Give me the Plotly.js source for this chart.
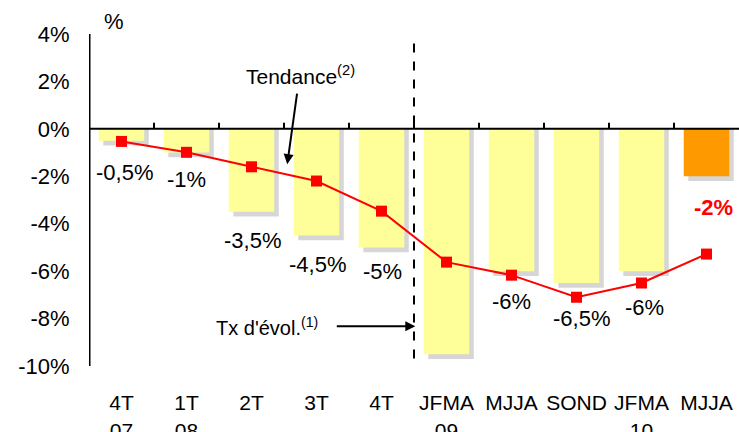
<!DOCTYPE html>
<html><head><meta charset="utf-8">
<script src="https://cdn.plot.ly/plotly-3.0.1.min.js"></script>
<style>html,body{margin:0;padding:0;background:#fff}#chart{width:739px;height:432px}</style>
</head><body><div id="chart"></div>
<script>
const categories = ["4T<br>07","1T<br>08","2T","3T","4T","JFMA<br>09","MJJA","SOND","JFMA<br>10","MJJA"];
const barValues = [-0.5,-1,-3.5,-4.5,-5,-9.5,-6,-6.5,-6,-2];
const trendValues = [-0.53,-0.99,-1.6,-2.2,-3.47,-5.62,-6.17,-7.1,-6.5,-5.28];
const barLabels = ["-0,5%","-1%","-3,5%","-4,5%","-5%","-9,5%","-6%","-6,5%","-6%","-2%"];
const labelX = [0.05,1.0,2.02,3.02,4.02,4.9,6.0,7.08,8.04,9.1];
const labelY = [-1.83,-2.13,-4.69,-5.7,-6.0,-10.4,-7.3,-8.0,-7.52,-3.3];
const yTickVals = [4,2,0,-2,-4,-6,-8,-10];
const yTickText = ["4%","2%","0%","-2%","-4%","-6%","-8%","-10%"];

const idx = categories.map((c,i)=>i);
const barColors = barValues.map((v,i)=> i===barValues.length-1 ? '#FF9900' : '#FFFF99');
const FONT = 'Liberation Sans, Arial, sans-serif';
const PLOT_W = 650, PLOT_H = 332;
const X_MIN = -0.5, X_MAX = idx.length - 0.5, Y_MIN = -10, Y_MAX = 4;
const pxX = (X_MAX - X_MIN) / PLOT_W, pxY = (Y_MAX - Y_MIN) / PLOT_H;

// axis decoration segments (derived from ranges and tick arrays)
const yTickX = [], yTickY = [];
yTickVals.forEach(v=>{ yTickX.push(X_MIN - 7*pxX, X_MIN, null); yTickY.push(v, v, null); });
const bTickX = [], bTickY = [];
idx.slice(1).forEach(i=>{ bTickX.push(i-0.5, i-0.5, null); bTickY.push(0, 6*pxY, null); });

const deco = {hoverinfo:'skip', showlegend:false, cliponaxis:false, mode:'lines', type:'scatter'};
const traces = [
  {type:'bar', x:idx, y:barValues.map(v=>v-0.2), width:0.7, offset:-0.28,
   marker:{color:'rgba(0,0,0,0.16)'}, hoverinfo:'skip', showlegend:false},
  {type:'bar', x:idx, y:barValues, width:0.7, marker:{color:barColors}, showlegend:false},
  Object.assign({x:[X_MIN, X_MAX], y:[0,0], line:{color:'#000', width:2}}, deco),
  Object.assign({x:bTickX, y:bTickY, line:{color:'#000', width:2}}, deco),
  Object.assign({x:yTickX, y:yTickY, line:{color:'#000', width:2}}, deco),
  Object.assign({x:[X_MIN, X_MIN], y:[Y_MAX, Y_MIN], line:{color:'#000', width:3}}, deco),
  {type:'scatter', mode:'lines+markers', x:idx, y:trendValues,
   line:{color:'#FF0000', width:2}, marker:{symbol:'square', size:11, color:'#FF0000'}, showlegend:false}
];

const anns = barLabels.map((t,i)=>({
  x:labelX[i], y:labelY[i], xref:'x', yref:'y', text: i===barLabels.length-1 ? '<b>'+t+'</b>' : t,
  showarrow:false, font:{family:FONT, size:22, color: i===barLabels.length-1 ? '#FF0000':'#000'}
}));
anns.push({x:-0.12, y:1.038, xref:'x', yref:'paper', yanchor:'middle', text:'%', showarrow:false, font:{family:FONT, size:22, color:'#000'}});
anns.push({x:2.75, y:2.29, xref:'x', yref:'y', text:'Tendance<sup>(2)</sup>', showarrow:false, font:{family:FONT, size:21, color:'#000'}});
anns.push({x:2.55, y:-1.49, xref:'x', yref:'y', text:'', showarrow:true, ax:10, ay:-72, arrowhead:2, arrowsize:1, arrowwidth:2, arrowcolor:'#000'});
anns.push({x:2.24, y:-8.32, xref:'x', yref:'y', text:"Tx d'évol.<sup>(1)</sup>", showarrow:false, font:{family:FONT, size:20, color:'#000'}});
anns.push({x:4.52, y:-8.32, xref:'x', yref:'y', text:'', showarrow:true, ax:-80, ay:0, arrowhead:2, arrowsize:1, arrowwidth:2, arrowcolor:'#000'});

const shapes = [
  {type:'line', xref:'x', yref:'y', x0:4.5, x1:4.5, y0:3.6, y1:-12, line:{color:'#000', width:2, dash:'dash'}}
];

const layout = {
  width:739, height:432,
  margin:{l:89, r:0, t:34, b:66},
  paper_bgcolor:'#fff', plot_bgcolor:'#fff',
  barmode:'overlay',
  font:{family:FONT, size:22, color:'#000'},
  xaxis:{range:[X_MIN, X_MAX], tickvals:idx, ticktext:categories, showgrid:false, zeroline:false,
         showline:false, ticks:'outside', ticklen:18, tickcolor:'rgba(0,0,0,0)', tickfont:{size:21}},
  yaxis:{range:[Y_MIN, Y_MAX], tickvals:yTickVals, ticktext:yTickText, showgrid:false, zeroline:false,
         showline:false, ticks:'outside', ticklen:14, tickcolor:'rgba(0,0,0,0)', tickfont:{size:22}},
  shapes:shapes,
  annotations:anns
};
Plotly.newPlot('chart', traces, layout, {displayModeBar:false, staticPlot:true});
</script></body></html>
